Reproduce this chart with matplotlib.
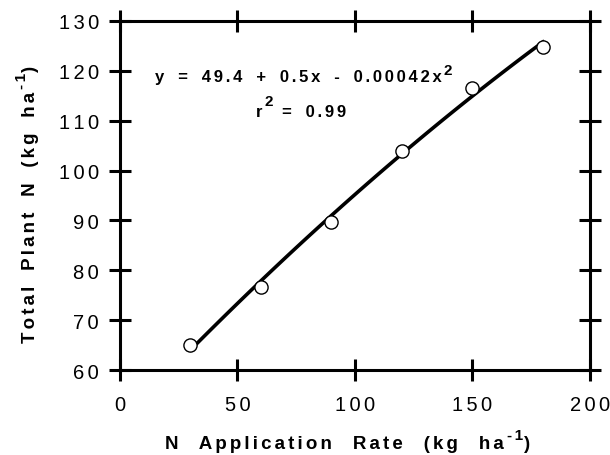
import numpy as np
import matplotlib
matplotlib.use('Agg')
import matplotlib.pyplot as plt

# N rate vs total plant N
n_rate = [30, 60, 90, 120, 150, 180]
plant_n = [65.1, 76.6, 89.6, 104.0, 116.5, 124.7]

# quadratic fit given on the chart
b0, b1, b2 = 49.4, 0.5, -0.00042
r_sq = 0.99

xticks = [0, 50, 100, 150, 200]
yticks = [60, 70, 80, 90, 100, 110, 120, 130]

plt.rcParams['font.family'] = ['Liberation Sans', 'DejaVu Sans']

LS = '\u2006'   # six-per-em space, used as letter spacing


def spread(s, gap='   '):
    # old typewriter look: a little air between letters, wide gaps between words
    return gap.join(LS.join(w) for w in s.split(' '))


fig = plt.figure(figsize=(6.1, 4.56), dpi=100)
ax = fig.add_axes([0.1967, 0.1864, 0.7705, 0.7654])

xfit = np.linspace(n_rate[0], n_rate[-1], 100)
yfit = b0 + b1 * xfit + b2 * xfit ** 2
ax.plot(xfit, yfit, color='black', lw=2.6, zorder=2)
ax.plot(n_rate, plant_n, 'o', mfc='white', mec='black', mew=1.0, ms=9.5, zorder=3)

ax.set_xlim(0, 200)
ax.set_ylim(60, 130)
ax.set_xticks(xticks, [spread(str(v)) for v in xticks])
ax.set_yticks(yticks, [spread(str(v)) for v in yticks])
for s in ax.spines.values():
    s.set_linewidth(2.2)
ax.tick_params(direction='inout', length=16.5, width=2.2, top=True, right=True,
               labelsize=14.5)
ax.tick_params(axis='x', pad=10)
ax.tick_params(axis='y', pad=7)

# x label with superscript
bold = dict(fontsize=13.5, fontweight='bold')
xl = ax.text(0.096, -0.2235, spread('N Application Rate (kg ha', gap='    '),
             transform=ax.transAxes, va='baseline', ha='left', **bold)
xs = ax.annotate('-' + LS + '1', xy=(1, 1), xycoords=xl, xytext=(2, 5),
                 textcoords='offset points', va='top', ha='left',
                 fontsize=11, fontweight='bold')
ax.annotate(')', xy=(1, 1), xycoords=(xs, xl), xytext=(1, 0),
            textcoords='offset points', va='top', ha='left', **bold)

# y label with superscript
yl = ax.text(-0.1816, 0.080, spread('Total Plant N (kg ha'),
             transform=ax.transAxes, va='baseline', ha='left',
             rotation=90, rotation_mode='anchor', **bold)
ys = ax.annotate('-' + LS + '1', xy=(0, 1), xycoords=yl, xytext=(-5, 2),
                 textcoords='offset points', va='top', ha='left',
                 rotation=90, rotation_mode='anchor',
                 fontsize=11, fontweight='bold')
ax.annotate(')', xy=(0, 1), xycoords=(yl, ys), xytext=(0, 1),
            textcoords='offset points', va='top', ha='left',
            rotation=90, rotation_mode='anchor', **bold)

# fit equation
eq = ax.text(0.0748, 0.828,
             spread('y = %.1f + %.1fx - %.5fx' % (b0, b1, -b2)),
             transform=ax.transAxes, va='baseline', ha='left',
             fontsize=12, fontweight='bold')
ax.annotate('2', xy=(1, 1), xycoords=eq, xytext=(1, 4),
            textcoords='offset points', va='top', ha='left',
            fontsize=11, fontweight='bold')
rr = ax.text(0.2885, 0.7278, 'r', transform=ax.transAxes, va='baseline',
             ha='left', fontsize=12, fontweight='bold')
r2 = ax.annotate('2', xy=(1, 1), xycoords=rr, xytext=(2, 7),
                 textcoords='offset points', va='top', ha='left',
                 fontsize=11, fontweight='bold')
ax.annotate(spread('= %.2f' % r_sq), xy=(1, 1), xycoords=(r2, rr),
            xytext=(6, 0), textcoords='offset points', va='top', ha='left',
            fontsize=12, fontweight='bold')

fig.savefig('out.png', dpi=100)
